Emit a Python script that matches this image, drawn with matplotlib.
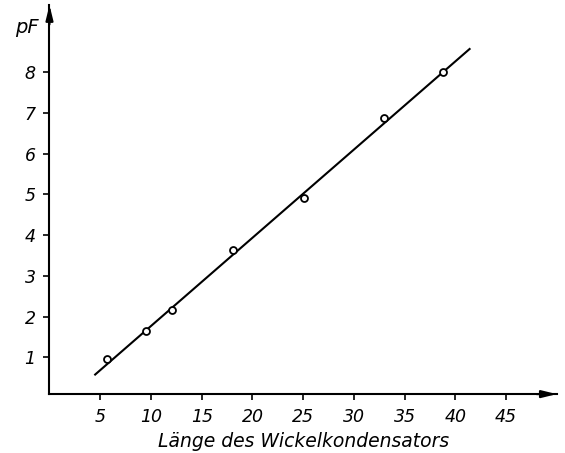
import matplotlib.pyplot as plt

laenge = [5.7, 9.5, 12.1, 18.1, 25.1, 33.0, 38.8]
kapazitaet = [0.97, 1.66, 2.17, 3.64, 4.91, 6.88, 8.0]

# drawn straight line (end points)
line_x = [4.5, 41.4]
line_y = [0.58, 8.57]

x_ticks = [5, 10, 15, 20, 25, 30, 35, 40, 45]
y_ticks = [1, 2, 3, 4, 5, 6, 7, 8]

plt.rcParams['font.family'] = 'DejaVu Sans'
plt.rcParams['font.style'] = 'italic'

fig = plt.figure(figsize=(5.65, 4.53), dpi=100)
ax = fig.add_axes([0.0876, 0.130, 0.898, 0.859])

ax.plot(line_x, line_y, '-', color='black', lw=1.5)
ax.plot(laenge, kapazitaet, 'o', mfc='white', mec='black', ms=5, mew=1.3)

ax.set_xlim(0, 50)
ax.set_ylim(0.1, 9.65)

for s in ['top', 'right']:
    ax.spines[s].set_visible(False)
for s in ['left', 'bottom']:
    ax.spines[s].set_linewidth(1.5)

# arrow heads at the ends of the axes
arrow = dict(arrowstyle='-|>,head_length=0.9,head_width=0.22',
             color='black', lw=1.5, shrinkA=0, shrinkB=0)
ax.annotate('', xy=(1, 0), xytext=(0.96, 0), xycoords='axes fraction',
            arrowprops=arrow)
ax.annotate('', xy=(0, 1), xytext=(0, 0.95), xycoords='axes fraction',
            arrowprops=arrow)

ax.set_xticks(x_ticks)
ax.set_yticks(y_ticks)
ax.tick_params(direction='out', length=4, width=1.2, labelsize=12.5, pad=6)

ax.set_xlabel('Länge des Wickelkondensators', fontsize=13.5, labelpad=4)
ax.text(-0.044, 0.943, 'pF', transform=ax.transAxes, fontsize=14,
        ha='center', va='center')

plt.savefig('out.png', dpi=100)
